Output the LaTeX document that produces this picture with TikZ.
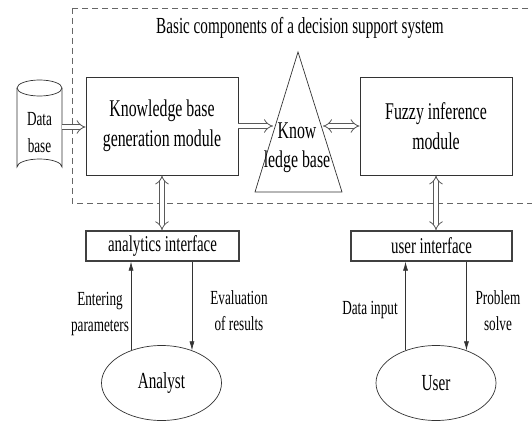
\documentclass[tikz,border=0pt]{standalone}
\usepackage{fontspec}
\setmainfont[FakeStretch=0.66]{Liberation Serif}
\usetikzlibrary{arrows.meta,shapes.geometric}
\begin{document}
\begin{tikzpicture}[x=1pt,y=-1pt,
  box/.style={draw=black!80, line width=0.8pt, inner sep=0pt, align=center},
  ibox/.style={draw=black!75, line width=1.4pt, inner sep=0pt, align=center,
     font=\fontsize{22.6}{24}\selectfont},
  bigtxt/.style={font=\fontsize{24}{30}\selectfont},
  lbl/.style={align=center, inner sep=0pt, font=\fontsize{20}{26}\selectfont},
  dbl/.style={draw=black!65, line width=0.8pt, double=white, double distance=4pt},
  thin/.style={draw=black!80, line width=0.6pt, -{Latex[length=9pt,width=5pt]}},
  actor/.style={draw=black!80, line width=0.7pt, ellipse, minimum width=120pt,
     minimum height=75pt, inner sep=0pt, font=\fontsize{23}{24}\selectfont}]
\useasboundingbox (0,0) rectangle (532,420);
\fill[white] (0,0) rectangle (532,420);
\begin{scope}
\clip (0,0) rectangle (532,420);
\draw[draw=black!60, line width=0.7pt, dash pattern=on 6pt off 4pt] (72,8) rectangle (545,203);
\end{scope}
\node[font=\fontsize{23}{24}\selectfont, inner sep=0pt] (title) at (300,28) {Basic components of a decision support system};
% database cylinder
\draw[draw=black!80, line width=0.7pt] (39.5,88) ellipse[x radius=22.5, y radius=8];
\draw[draw=black!80, line width=0.7pt] (17,88) -- (17,167) arc[start angle=180, end angle=360, x radius=22.5, y radius=8] -- (62,88);
\node[lbl, font=\fontsize{20}{27}\selectfont, minimum width=45pt, minimum height=60pt] (db) at (39.5,133) {Data\\base};
% modules
\node[box, bigtxt, minimum width=152pt, minimum height=98pt] (kb) at (162,126) {Knowledge base\\generation module};
\node[box, bigtxt, minimum width=152pt, minimum height=98pt] (fz) at (436,126) {Fuzzy inference\\module};
% knowledge base triangle
\coordinate (ta) at (298,52);
\coordinate (tl) at (255,192);
\coordinate (tr) at (342,192);
\draw[draw=black!80, line width=0.7pt] (ta) -- (tl) -- (tr) -- cycle;
\node[bigtxt, inner sep=0pt] (know) at (297,131) {Know};
\node[bigtxt, inner sep=0pt] (ledge) at (297,162) {ledge base};
\coordinate (kin) at (273,126);
\coordinate (kout) at (323,126);
% horizontal double arrows
\draw[dbl, -{Implies}] (62,127) -- (kb.west |- 0,127);
\draw[dbl, -{Implies}] (kb.east) -- (kin);
\draw[dbl, {Implies}-{Implies}] (kout) -- (fz.west);
% interfaces
\node[ibox, minimum width=153pt, minimum height=30pt] (ai) at (162.5,246) {analytics interface};
\node[ibox, minimum width=161pt, minimum height=30pt] (ui) at (431.5,246) {user interface};
\draw[dbl, {Implies}-{Implies}] (kb.south) -- (kb.south |- ai.north);
\draw[dbl, {Implies}-{Implies}] (fz.south) -- (fz.south |- ui.north);
% actors
\node[actor] (an) at (161.5,383) {Analyst};
\node[actor] (us) at (436,383) {User};
\draw[thin] (an.133) -- (an.133 |- ai.south);
\draw[thin] (ai.south -| an.47) -- (an.47);
\draw[thin] (us.133) -- (us.133 |- ui.south);
\draw[thin] (ui.south -| us.47) -- (us.47);
% labels
\node[lbl] (ent) at (100,314) {Entering\\parameters};
\node[lbl] (eva) at (239,311) {Evaluation\\of results};
\node[lbl] (din) at (370,310) {Data input};
\node[lbl] (pro) at (498,311) {Problem\\solve};
\end{tikzpicture}
\end{document}
